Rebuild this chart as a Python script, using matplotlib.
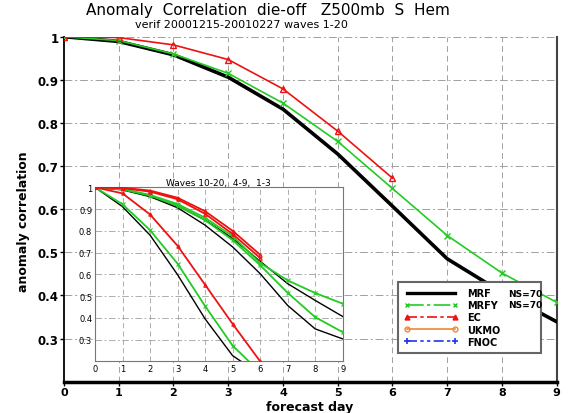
import matplotlib
matplotlib.use("Agg")
import matplotlib.pyplot as plt
from matplotlib.lines import Line2D

# ---------------- data ----------------
days = [0, 1, 2, 3, 4, 5, 6, 7, 8, 9]
days_ec = [0, 1, 2, 3, 4, 5, 6]

mrf = [1.0, 0.989, 0.958, 0.906, 0.832, 0.728, 0.607, 0.485, 0.407, 0.339]
mrfy = [1.0, 0.991, 0.960, 0.915, 0.846, 0.757, 0.648, 0.539, 0.452, 0.384]
ec = [1.0, 0.998, 0.981, 0.947, 0.879, 0.781, 0.672]

# inset: waves 10-20, 4-9, 1-3
mrf_w10 = [1.0, 0.911, 0.780, 0.598, 0.395, 0.226, 0.14]
mrfy_w10 = [1.0, 0.922, 0.803, 0.649, 0.454, 0.272, 0.15]
ec_w10 = [1.0, 0.972, 0.875, 0.731, 0.552, 0.372, 0.200]

mrf_w4 = [1.0, 0.988, 0.957, 0.906, 0.826, 0.726, 0.603, 0.457, 0.349, 0.303]
mrfy_w4 = [1.0, 0.990, 0.962, 0.915, 0.849, 0.757, 0.642, 0.515, 0.403, 0.334]
ec_w4 = [1.0, 0.996, 0.980, 0.945, 0.878, 0.785, 0.675]

mrf_w1 = [1.0, 0.990, 0.960, 0.915, 0.850, 0.765, 0.660, 0.557, 0.480, 0.406]
mrfy_w1 = [1.0, 0.992, 0.965, 0.923, 0.860, 0.775, 0.652, 0.572, 0.514, 0.465]
ec_w1 = [1.0, 0.998, 0.985, 0.952, 0.890, 0.800, 0.690]

yticks = [0.3, 0.4, 0.5, 0.6, 0.7, 0.8, 0.9, 1.0]
ytick_labels = ["0.3", "0.4", "0.5", "0.6", "0.7", "0.8", "0.9", "1"]
legend_names = ["MRF", "MRFY", "EC", "UKMO", "FNOC"]
ns_text = ["NS=70", "NS=70"]

# ---------------- style ----------------
BLACK = "black"
GREEN = "#22cc22"
RED = "#ee1111"
ORANGE = "#ee8833"
BLUE = "#2233ee"
GRID = "#a0a0a0"
hdash = (0, (8, 3, 2, 3))
vdash = (0, (6, 4))

W, H = 568, 414
fig = plt.figure(figsize=(W / 100, H / 100), dpi=100)

def fx(px):
    return px / W

def fy(py):
    return 1 - py / H

ax = fig.add_axes([fx(64), fy(382.7), fx(556.7) - fx(64), fy(37.7) - fy(382.7)])
ax.set_xlim(0, 9)
ax.set_ylim(0.2, 1.0)

for d in range(1, 9):
    ax.axvline(d, color=GRID, lw=0.7, ls=vdash, zorder=0)
for yv in yticks:
    ax.axhline(yv, color=GRID, lw=0.7, ls=hdash, zorder=0)

ax.plot(days, mrf, color=BLACK, lw=2.6, zorder=3)
ax.plot(days, mrfy, color=GREEN, lw=1.2, marker="x", ms=4.5, mew=1.0, zorder=4)
ax.plot(days_ec, ec, color=RED, lw=1.2, marker="^", ms=4.5, mfc="none", mew=1.0, zorder=5)

ax.set_xticks(days)
ax.set_xticklabels([str(d) for d in days], fontweight="bold", fontsize=8)
ax.set_yticks(yticks)
ax.set_yticklabels(ytick_labels, fontweight="bold", fontsize=8.5)
ax.tick_params(axis="both", direction="out", length=3, width=1, color="black", pad=1)
ax.spines["top"].set_visible(False)
ax.spines["left"].set_linewidth(1.3)
ax.spines["bottom"].set_linewidth(2.5)
ax.spines["right"].set_color("#444444")
ax.spines["right"].set_linewidth(1.5)

fig.text(fx(310), fy(408), "forecast day", ha="center", va="center",
         fontsize=9, fontweight="bold")
fig.text(fx(24), fy(222), "anomaly correlation", ha="center", va="center",
         fontsize=9, fontweight="bold", rotation=90)

fig.text(fx(268), fy(11), "Anomaly  Correlation  die-off   Z500mb  S  Hem",
         ha="center", va="center", fontsize=11)
fig.text(fx(241), fy(25.5), "verif 20001215-20010227 waves 1-20",
         ha="center", va="center", fontsize=8)

# ---------------- inset ----------------
ins = fig.add_axes([fx(95), fy(362.3), fx(342.7) - fx(95), fy(188.3) - fy(362.3)])
ins.set_facecolor("white")
ins.set_xlim(0, 9)
ins.set_ylim(0.2, 1.0)
for d in range(1, 9):
    ins.axvline(d, color=GRID, lw=0.6, ls=vdash, zorder=0)
for yv in yticks[:-1]:
    ins.axhline(yv, color=GRID, lw=0.6, ls=hdash, zorder=0)

for series_mrf, series_mrfy, series_ec in [(mrf_w10, mrfy_w10, ec_w10),
                                           (mrf_w4, mrfy_w4, ec_w4),
                                           (mrf_w1, mrfy_w1, ec_w1)]:
    n = len(series_mrf)
    ins.plot(days[:n], series_mrf, color=BLACK, lw=1.0, zorder=3)
    ins.plot(days[:len(series_mrfy)], series_mrfy, color=GREEN, lw=1.3,
             marker="x", ms=2.5, mew=0.8, zorder=4)
    ins.plot(days_ec[:len(series_ec)], series_ec, color=RED, lw=1.3,
             marker="^", ms=2.5, mfc="none", mew=0.8, zorder=5)

ins.set_xticks(days)
ins.set_xticklabels([str(d) for d in days], fontsize=6)
ins.set_yticks(yticks)
ins.set_yticklabels(ytick_labels, fontsize=6)
ins.tick_params(axis="both", length=0, pad=2)
for s in ins.spines.values():
    s.set_color("#777777")
    s.set_linewidth(0.8)
ins.set_title("Waves 10-20,  4-9,  1-3", fontsize=6.5, pad=2)

# ---------------- legend ----------------
handles = [
    Line2D([], [], color=BLACK, lw=2.4),
    Line2D([], [], color=GREEN, lw=1.2, ls=(0, (10, 2, 2, 2)), marker="x", ms=3.5, mew=1),
    Line2D([], [], color=RED, lw=1.2, ls=(0, (6, 2, 2, 2)), marker="^", ms=3.5),
    Line2D([], [], color=ORANGE, lw=1.2, ls="-", marker="o", ms=3.5, mfc="none"),
    Line2D([], [], color=BLUE, lw=1.2, ls=(0, (6, 2, 2, 2, 2, 2)), marker="+", ms=4.5, mew=1.2),
]
leg = fig.legend(handles, legend_names, loc="upper left",
                 bbox_to_anchor=(fx(398), fy(283.3), fx(540.7) - fx(398), 0.0),
                 mode="expand", prop={"weight": "bold", "size": 7},
                 numpoints=2, handlelength=5.6, handletextpad=0.9,
                 labelspacing=0.22, borderpad=0.6, borderaxespad=0,
                 fancybox=False, framealpha=1, edgecolor="#666666")
leg.get_frame().set_linewidth(1.5)
leg.set_zorder(10)
for i, t in enumerate(ns_text):
    fig.text(fx(508), fy(294.3 + i * 11.6), t, ha="left", va="center",
             fontsize=6.5, fontweight="bold", zorder=11)

fig.savefig("out.png", dpi=100)
